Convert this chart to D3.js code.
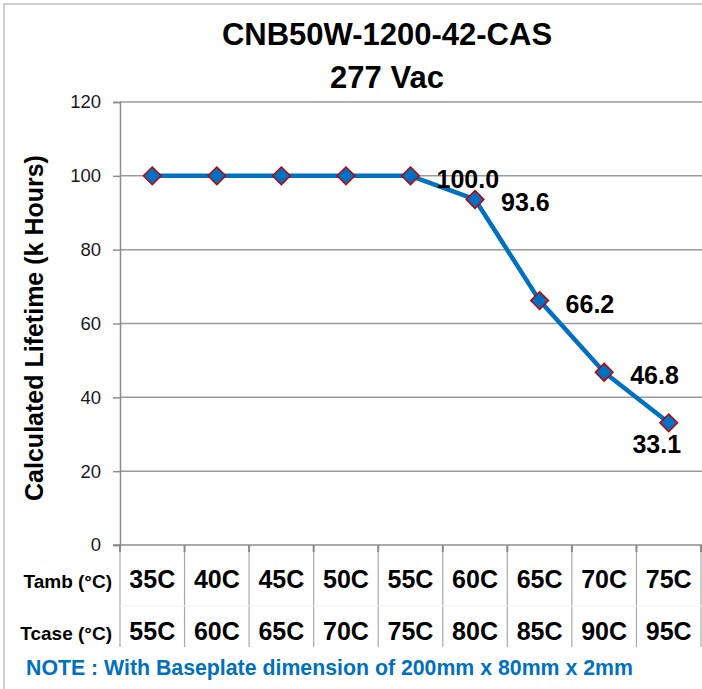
<!DOCTYPE html>
<html>
<head>
<meta charset="utf-8">
<script src="https://cdn.jsdelivr.net/npm/d3@7"></script>
<style>
  body { margin: 0; background: #fff; }
  svg { display: block; font-family: "Liberation Sans", Arial, Helvetica, sans-serif; }
</style>
</head>
<body>
<div id="vis"></div>
<script>
// chart data
let tamb = ['35C', '40C', '45C', '50C', '55C', '60C', '65C', '70C', '75C']
let tcase = ['55C', '60C', '65C', '70C', '75C', '80C', '85C', '90C', '95C']
let lifetime = [100, 100, 100, 100, 100, 93.6, 66.2, 46.8, 33.1]
// only the last five points carry a value label
let labelled = [false, false, false, false, true, true, true, true, true]
let yTicks = [0, 20, 40, 60, 80, 100, 120]

let W = 702, H = 689
let margin = { top: 102, left: 120, right: 1, bottom: 144 }

let svg = d3.select('#vis')
  .append('svg')
  .attr('width', W)
  .attr('height', H)

// outer chart border (right/bottom run off the picture)
svg.append('rect')
  .attr('x', 4).attr('y', 4)
  .attr('width', W + 10).attr('height', H + 10)
  .attr('fill', 'white')
  .attr('stroke', '#cfcfcf')
  .attr('stroke-width', 2)

let x = d3.scaleBand()
  .domain(tamb)
  .range([margin.left, W - margin.right])

let y = d3.scaleLinear()
  .domain([0, 120])
  .range([H - margin.bottom, margin.top])

// title
svg.append('text')
  .attr('x', 387).attr('y', 45)
  .attr('text-anchor', 'middle')
  .style('font-weight', 'bold')
  .style('font-size', '31px')
  .attr('fill', '#000')
  .text('CNB50W-1200-42-CAS')
svg.append('text')
  .attr('x', 387).attr('y', 88)
  .attr('text-anchor', 'middle')
  .style('font-weight', 'bold')
  .style('font-size', '31px')
  .attr('fill', '#000')
  .text('277 Vac')

// horizontal gridlines
svg.append('g')
  .selectAll('line')
  .data(yTicks.filter(d => d > 0))
  .join('line')
  .attr('x1', margin.left).attr('x2', W)
  .attr('y1', d => y(d)).attr('y2', d => y(d))
  .attr('stroke', '#9a9a9a')
  .attr('stroke-width', 1.5)

// y axis
let yAxis = svg.append('g')
  .attr('transform', `translate(${margin.left},0)`)
  .call(d3.axisLeft(y).tickValues(yTicks).tickSize(7).tickPadding(12).tickFormat(d3.format('d')))
yAxis.select('.domain').attr('stroke', '#8c8c8c').attr('stroke-width', 1.5)
yAxis.selectAll('.tick line').attr('stroke', '#8c8c8c').attr('stroke-width', 1.5)
yAxis.selectAll('.tick text')
  .attr('fill', '#1a1a1a')
  .style('font-size', '18.5px')
  .style('font-family', '"Liberation Sans", Arial, sans-serif')

// y axis title
svg.append('text')
  .attr('transform', 'translate(43,328) rotate(-90)')
  .attr('text-anchor', 'middle')
  .style('font-weight', 'bold')
  .style('font-size', '25px')
  .attr('fill', '#000')
  .text('Calculated Lifetime (k Hours)')

// x axis line at 0
svg.append('line')
  .attr('x1', margin.left - 7).attr('x2', W)
  .attr('y1', y(0)).attr('y2', y(0))
  .attr('stroke', '#8c8c8c')
  .attr('stroke-width', 1.5)

// data table under the axis
let tableBottom = 647
let bounds = tamb.map(d => x(d)).concat([x(tamb[tamb.length - 1]) + x.bandwidth()])
svg.append('g')
  .selectAll('line')
  .data(bounds)
  .join('line')
  .attr('x1', d => d).attr('x2', d => d)
  .attr('y1', y(0)).attr('y2', tableBottom)
  .attr('stroke', '#a8a8a8')
  .attr('stroke-width', 1.2)
svg.append('g')
  .selectAll('line')
  .data(bounds)
  .join('line')
  .attr('x1', d => d).attr('x2', d => d)
  .attr('y1', y(0)).attr('y2', y(0) + 7)
  .attr('stroke', '#8c8c8c')
  .attr('stroke-width', 2)
svg.append('line')
  .attr('x1', margin.left).attr('x2', W)
  .attr('y1', 606).attr('y2', 606)
  .attr('stroke', '#f2f2f2')
  .attr('stroke-width', 1)

let rows = [
  { name: 'Tamb (°C)', values: tamb, base: 588 },
  { name: 'Tcase (°C)', values: tcase, base: 640 }
]
rows.forEach(r => {
  svg.append('text')
    .attr('x', 112).attr('y', r.base)
    .attr('text-anchor', 'end')
    .style('font-weight', 'bold')
    .style('font-size', '19px')
    .attr('fill', '#000')
    .text(r.name)
  svg.append('g')
    .selectAll('text')
    .data(r.values)
    .join('text')
    .attr('x', (d, i) => x(tamb[i]) + x.bandwidth() / 2)
    .attr('y', r.base)
    .attr('text-anchor', 'middle')
    .style('font-weight', 'bold')
    .style('font-size', '25px')
    .attr('fill', '#000')
    .text(d => d)
})

// note
svg.append('text')
  .attr('x', 26).attr('y', 675)
  .style('font-weight', 'bold')
  .style('font-size', '21.3px')
  .attr('fill', '#0070c0')
  .text('NOTE : With Baseplate dimension of 200mm x 80mm x 2mm')

// series line
let line = d3.line()
  .x((d, i) => x(tamb[i]) + x.bandwidth() / 2)
  .y(d => y(d))
svg.append('path')
  .datum(lifetime)
  .attr('d', line)
  .attr('fill', 'none')
  .attr('stroke', '#0070c0')
  .attr('stroke-width', 4.5)
  .attr('stroke-linejoin', 'round')

// diamond markers
svg.append('g')
  .selectAll('path')
  .data(lifetime)
  .join('path')
  .attr('d', d3.symbol().type(d3.symbolDiamond2).size(200))
  .attr('transform', (d, i) => `translate(${x(tamb[i]) + x.bandwidth() / 2},${y(d)})`)
  .attr('fill', '#0070c0')
  .attr('stroke', '#c00000')
  .attr('stroke-width', 1.5)

// value labels
svg.append('g')
  .selectAll('text')
  .data(lifetime.map((v, i) => ({ v: v, i: i })).filter(d => labelled[d.i]))
  .join('text')
  .attr('x', d => {
    let cx = x(tamb[d.i]) + x.bandwidth() / 2
    return d.i === lifetime.length - 1 ? cx - 12 : cx + 26
  })
  .attr('y', d => d.i === lifetime.length - 1 ? y(d.v) + 30 : y(d.v) + 12)
  .attr('text-anchor', d => d.i === lifetime.length - 1 ? 'middle' : 'start')
  .style('font-weight', 'bold')
  .style('font-size', '25px')
  .attr('fill', '#000')
  .text(d => d3.format('.1f')(d.v))
</script>
</body>
</html>
